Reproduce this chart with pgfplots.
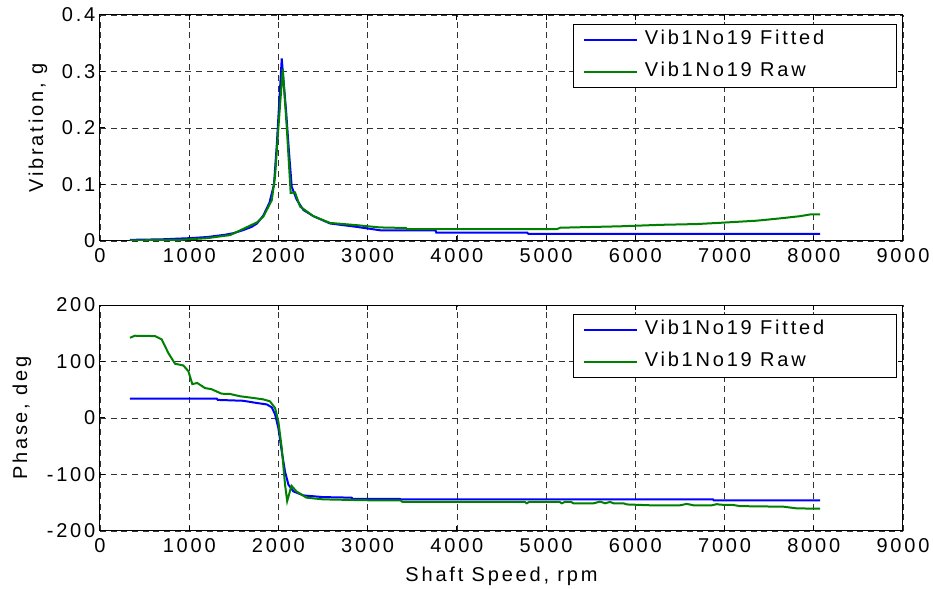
\documentclass[border=0pt]{standalone}
\usepackage{fontspec}
\setmainfont{Liberation Sans}[LetterSpace=14]
\usepackage{pgfplots}
\pgfplotsset{compat=1.18}
\definecolor{mblue}{rgb}{0,0,1}
\definecolor{mgreen}{rgb}{0,0.5,0}
\pgfplotsset{
  mstyle/.style={
    scale only axis, width=602.25pt, height=169.5pt,
    xmin=0, xmax=9000, xtick={0,1000,...,9000},
    scaled ticks=false,
    /pgf/number format/assume math mode=true,
    /pgf/number format/1000 sep={},
    grid=major,
    major grid style={black!80, line width=0.5pt, dash pattern=on 4.5pt off 3.5pt},
    axis line style={line width=0.75pt},
    tick style={black, line width=0.75pt},
    major tick length=4pt,
    tick align=inside,
    xticklabel style={yshift=-2pt},
    legend cell align=left,
    legend style={at={(1,1)}, anchor=north east, xshift=-4.5pt, yshift=-6.75pt,
      draw=black, line width=0.75pt, inner xsep=6.75pt, inner ysep=3pt,
      row sep=7pt, column sep=3pt,
      nodes={text height=10pt, text depth=3pt, inner sep=2pt}},
    legend image code/.code={\draw[#1, line width=1.5pt] (0pt,0pt) -- (40pt,0pt);},
    every axis plot/.append style={line width=1.5pt},
    every axis x label/.style={at={(axis description cs:0.5,0)}, anchor=base, yshift=-38.25pt},
  }
}
\begin{document}
\begin{tikzpicture}[font=\fontsize{15}{17}\selectfont]
\path[use as bounding box] (0,0) rectangle (699.75pt,441.75pt);
\begin{axis}[mstyle, at={(75pt,261pt)}, anchor=south west,
  ymin=0, ymax=0.4, ytick={0,0.1,0.2,0.3,0.4},
  yticklabel style={/pgf/number format/fixed},
  ylabel={Vibration, g},
  every axis y label/.style={at={([xshift=-46.5pt]axis description cs:0,0.5)}, rotate=90, anchor=center},
]
\addplot[mblue] coordinates {
(336,0.002) (700,0.003) (1000,0.005) (1200,0.007) (1400,0.011) (1500,0.014)
(1600,0.019) (1700,0.025) (1760,0.031) (1830,0.045) (1900,0.068) (1950,0.100)
(1980,0.167) (2010,0.248) (2037,0.323) (2060,0.278) (2085,0.232) (2119,0.156)
(2149,0.096) (2205,0.073) (2279,0.055) (2391,0.044) (2578,0.031) (2877,0.025)
(3139,0.019) (3760,0.019) (3770,0.0146) (4790,0.0146) (4800,0.0128) (8070,0.0128)
};
\addlegendentry{\makebox[180pt][l]{Vib1No19 Fitted}}
\addplot[mgreen] coordinates {
(336,0.001) (900,0.002) (1200,0.005) (1460,0.0105) (1640,0.024) (1760,0.033)
(1830,0.043) (1925,0.072) (1962,0.114) (2000,0.202) (2048,0.304) (2093,0.202)
(2137,0.085) (2186,0.086) (2242,0.061) (2391,0.044) (2578,0.032) (2877,0.028)
(3139,0.024) (3430,0.023) (3442,0.021) (5120,0.021) (5160,0.0235) (5830,0.026)
(6280,0.0286) (6690,0.030) (6930,0.032) (7365,0.036) (7620,0.040) (7850,0.044)
(7960,0.047) (8070,0.047)
};
\addlegendentry{\makebox[180pt][l]{Vib1No19 Raw}}
\end{axis}
\begin{axis}[mstyle, at={(75pt,43.5pt)}, anchor=south west,
  ymin=-200, ymax=200, ytick={-200,-100,0,100,200},
  ylabel={Phase, deg}, xlabel={Shaft Speed, rpm},
  every axis y label/.style={at={([xshift=-58.5pt]axis description cs:0,0.5)}, rotate=90, anchor=center},
]
\addplot[mblue] coordinates {
(336,34.4) (1308,34.4) (1320,32) (1603,30.5) (1757,26.6) (1869,24) (1925,19)
(1962,6.5) (1999,-17.7) (2037,-59) (2074,-95) (2112,-118) (2168,-130) (2280,-137)
(2500,-140) (2820,-141) (2830,-143) (3360,-143) (3370,-144) (6870,-144)
(6880,-146) (8070,-146)
};
\addlegendentry{\makebox[180pt][l]{Vib1No19 Fitted}}
\addplot[mgreen] coordinates {
(336,142) (390,145.6) (617,145) (692,139) (766,115) (841,96) (934,93) (990,83)
(1035,60) (1090,62) (1176,53) (1250,51) (1362,43) (1456,42.6) (1568,38.5)
(1717,35.5) (1829,33) (1904,29.6) (1962,17.8) (1999,-6) (2037,-53) (2074,-118)
(2098,-147) (2146,-120) (2202,-130) (2314,-141) (2500,-144) (2800,-145)
(3140,-146) (3370,-146) (3390,-148.5) (4760,-148.5) (4783,-151) (4810,-148.5)
(5150,-148.5) (5176,-151) (5210,-148.5) (5280,-148.5) (5306,-151) (5531,-151)
(5605,-148) (5661,-151) (5717,-148.5) (5755,-151) (5867,-151) (5904,-153)
(6166,-154.5) (6502,-154.5) (6577,-152) (6652,-154.5) (6857,-154.5)
(6913,-152.5) (6960,-153.5) (7100,-154) (7175,-156) (7661,-157) (7810,-160)
(8072,-160.5)
};
\addlegendentry{\makebox[180pt][l]{Vib1No19 Raw}}
\end{axis}
\end{tikzpicture}
\end{document}
